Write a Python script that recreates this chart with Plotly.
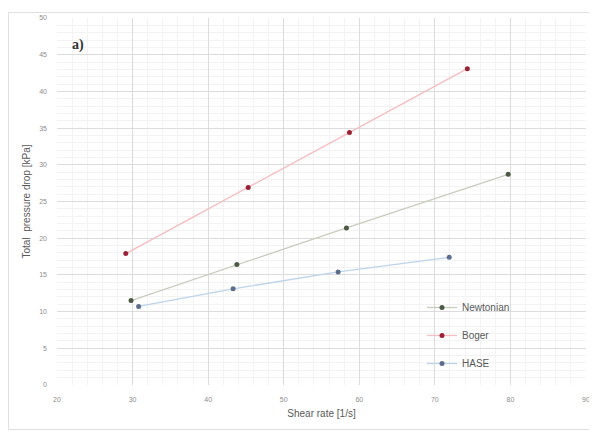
import plotly.graph_objects as go

newt_x = [29.8, 43.8, 58.3, 79.7]
newt_y = [11.5, 16.4, 21.4, 28.7]
boger_x = [29.1, 45.3, 58.7, 74.3]
boger_y = [17.9, 26.9, 34.4, 43.1]
hase_x = [30.8, 43.3, 57.2, 71.9]
hase_y = [10.7, 13.1, 15.4, 17.4]

series = [
    ("Newtonian", newt_x, newt_y, "#c6cdbc", "#4b5a42"),
    ("Boger", boger_x, boger_y, "#f6bcbf", "#9a2235"),
    ("HASE", hase_x, hase_y, "#bcd3ec", "#5d6d8c"),
]

fig = go.Figure()
for i, (name, xs, ys, lc, mc) in enumerate(series):
    fig.add_trace(go.Scatter(
        x=xs, y=ys, name=name, mode="lines+markers",
        line=dict(color=lc, width=1.3),
        marker=dict(color=mc, size=5),
        legendgroup=f"g{i}",
    ))

# page has an 8px body margin; figure sized to fit the 597x435 window
OFF = 8
W, H = 589, 427
ml, mr, mt, mb = 49, 11, 6, 50
pw = W - ml - mr
ph = H - mt - mb

def sx(p):  # screen px -> paper x
    return (p - OFF - ml) / pw

def sy(p):  # screen px -> paper y
    return (H - mb - (p - OFF)) / ph

fig.update_layout(
    width=W, height=H,
    margin=dict(l=ml, r=mr, t=mt, b=mb),
    paper_bgcolor="white", plot_bgcolor="white",
    font=dict(family="Liberation Sans, Arial", color="#595959"),
    showlegend=True,
    legend=dict(
        x=sx(422), y=sy(292), xanchor="left", yanchor="top",
        bgcolor="rgba(255,255,255,0)",
        font=dict(size=10, color="#595959"),
        tracegroupgap=9, traceorder="grouped",
        itemwidth=30,
    ),
    xaxis=dict(
        range=[20, 90], dtick=10, tick0=20,
        showgrid=True, gridcolor="#dcdcdc", gridwidth=1,
        minor=dict(dtick=2, showgrid=True, gridcolor="#f3f3f3"),
        zeroline=False, showline=False, ticks="",
        tickfont=dict(size=7, color="#8c8c8c"),
        ticklabelstandoff=9,
        title=dict(text="Shear rate [1/s]", font=dict(size=10, color="#595959"), standoff=7),
    ),
    yaxis=dict(
        range=[0, 50], dtick=5, tick0=0,
        showgrid=True, gridcolor="#dcdcdc", gridwidth=1,
        minor=dict(dtick=1, showgrid=True, gridcolor="#f3f3f3"),
        zeroline=False, showline=False, ticks="",
        tickfont=dict(size=7, color="#8c8c8c"),
        ticklabelstandoff=9,
        title=dict(text="Total  pressure drop [kPa]", font=dict(size=10, color="#595959"), standoff=6),
    ),
    annotations=[dict(
        text="<b>a)</b>", x=sx(70), y=sy(41), xref="paper", yref="paper",
        xanchor="left", yanchor="middle", showarrow=False,
        font=dict(family="Liberation Serif", size=14, color="#333333"),
    )],
    shapes=[dict(
        type="rect", xref="paper", yref="paper",
        x0=sx(8.5), x1=sx(596), y0=sy(430), y1=sy(8.5),
        line=dict(color="#e0e0e0", width=1), layer="below",
    )],
)

fig.write_html("out.html")
